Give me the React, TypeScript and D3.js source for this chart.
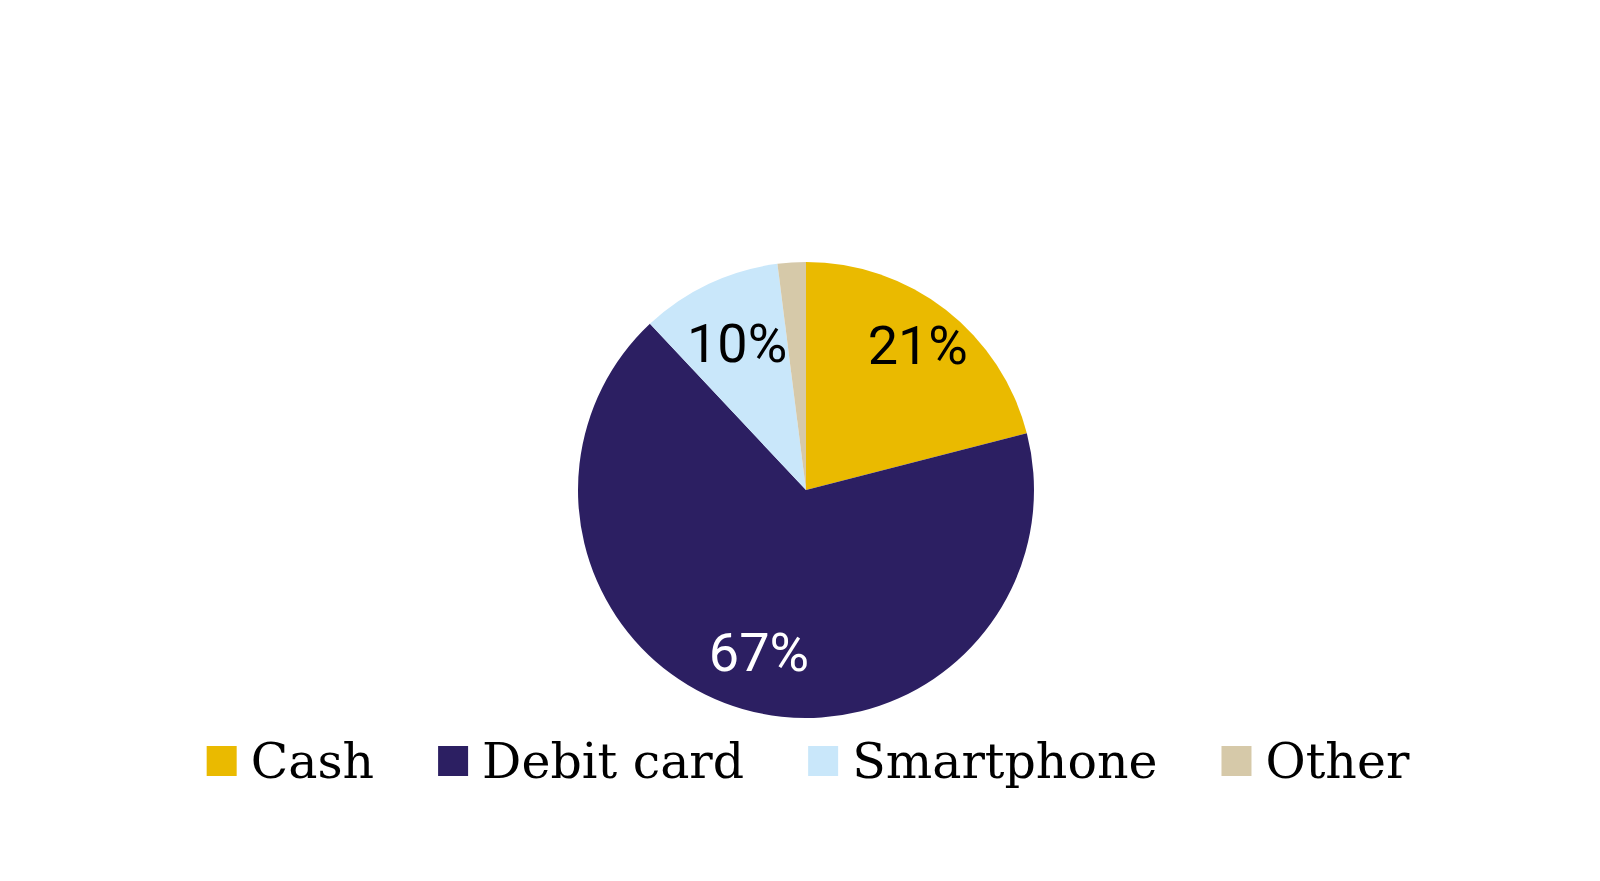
import React, { useEffect, useRef } from 'react';
import * as d3 from 'd3';

// Payment method shares (percent)
const categories = ['Cash', 'Debit card', 'Smartphone', 'Other'];
const shares = [21, 67, 10, 2];
const colors = ['#EABA00', '#2C1F62', '#C9E7FA', '#D6C9A9'];
const labelColors = ['#000000', '#FFFFFF', '#000000', null]; // no label on "Other"

const WIDTH = 1600;
const HEIGHT = 881;

const App: React.FC = () => {
  const svgRef = useRef<SVGSVGElement>(null);

  useEffect(() => {
    if (!svgRef.current) return;
    const svg = d3.select(svgRef.current);
    svg.selectAll('*').remove();

    svg.append('rect').attr('width', WIDTH).attr('height', HEIGHT).attr('fill', '#ffffff');

    const cx = 806;
    const cy = 490;
    const radius = 228;
    // label distance from centre, as a fraction of the radius (Excel "best fit" look)
    const labelR = [0.8, 0.74, 0.71, 0.75];

    const data = categories.map((c, i) => ({ name: c, value: shares[i], i }));
    const pie = d3.pie<{ name: string; value: number; i: number }>()
      .sort(null)
      .value(d => d.value);
    const arcs = pie(data);

    const arc = d3.arc<d3.PieArcDatum<{ name: string; value: number; i: number }>>()
      .innerRadius(0)
      .outerRadius(radius);

    const g = svg.append('g').attr('transform', `translate(${cx},${cy})`);

    g.selectAll('path.slice')
      .data(arcs)
      .join('path')
      .attr('class', 'slice')
      .attr('d', arc)
      .attr('fill', d => colors[d.data.i]);

    // data labels
    g.selectAll('text.lbl')
      .data(arcs.filter(d => labelColors[d.data.i] !== null))
      .join('text')
      .attr('class', 'lbl')
      .attr('transform', d => {
        const r = radius * labelR[d.data.i];
        const [x, y] = d3.arc<d3.PieArcDatum<any>>().innerRadius(r).outerRadius(r).centroid(d);
        return `translate(${x},${y})`;
      })
      .attr('text-anchor', 'middle')
      .attr('dominant-baseline', 'central')
      .attr('font-family', 'Roboto, "Open Sans", sans-serif')
      .attr('font-size', 54)
      .attr('fill', d => labelColors[d.data.i] as string)
      .text(d => `${d.data.value}%`);

    // legend
    const legend = svg.append('g');
    const sq = 30;
    const textGap = 14;
    const itemGap = 64;
    const items = categories.map((c, i) => {
      const item = legend.append('g');
      item.append('rect')
        .attr('width', sq)
        .attr('height', sq)
        .attr('y', -sq / 2)
        .attr('fill', colors[i]);
      const t = item.append('text')
        .attr('x', sq + textGap)
        .attr('y', 17)
        .attr('font-family', '"DejaVu Serif", serif')
        .attr('font-size', 49)
        .attr('fill', '#000000')
        .text(c);
      const w = (t.node() as SVGTextElement).getComputedTextLength();
      return { item, width: sq + textGap + w };
    });
    const total = d3.sum(items, d => d.width) + itemGap * (items.length - 1);
    let x = 808 - total / 2;
    items.forEach(({ item, width }) => {
      item.attr('transform', `translate(${x},761)`);
      x += width + itemGap;
    });
  }, []);

  return (
    <svg
      ref={svgRef}
      width={WIDTH}
      height={HEIGHT}
      style={{ position: 'absolute', left: 0, top: 0, display: 'block' }}
    />
  );
};

export default App;
